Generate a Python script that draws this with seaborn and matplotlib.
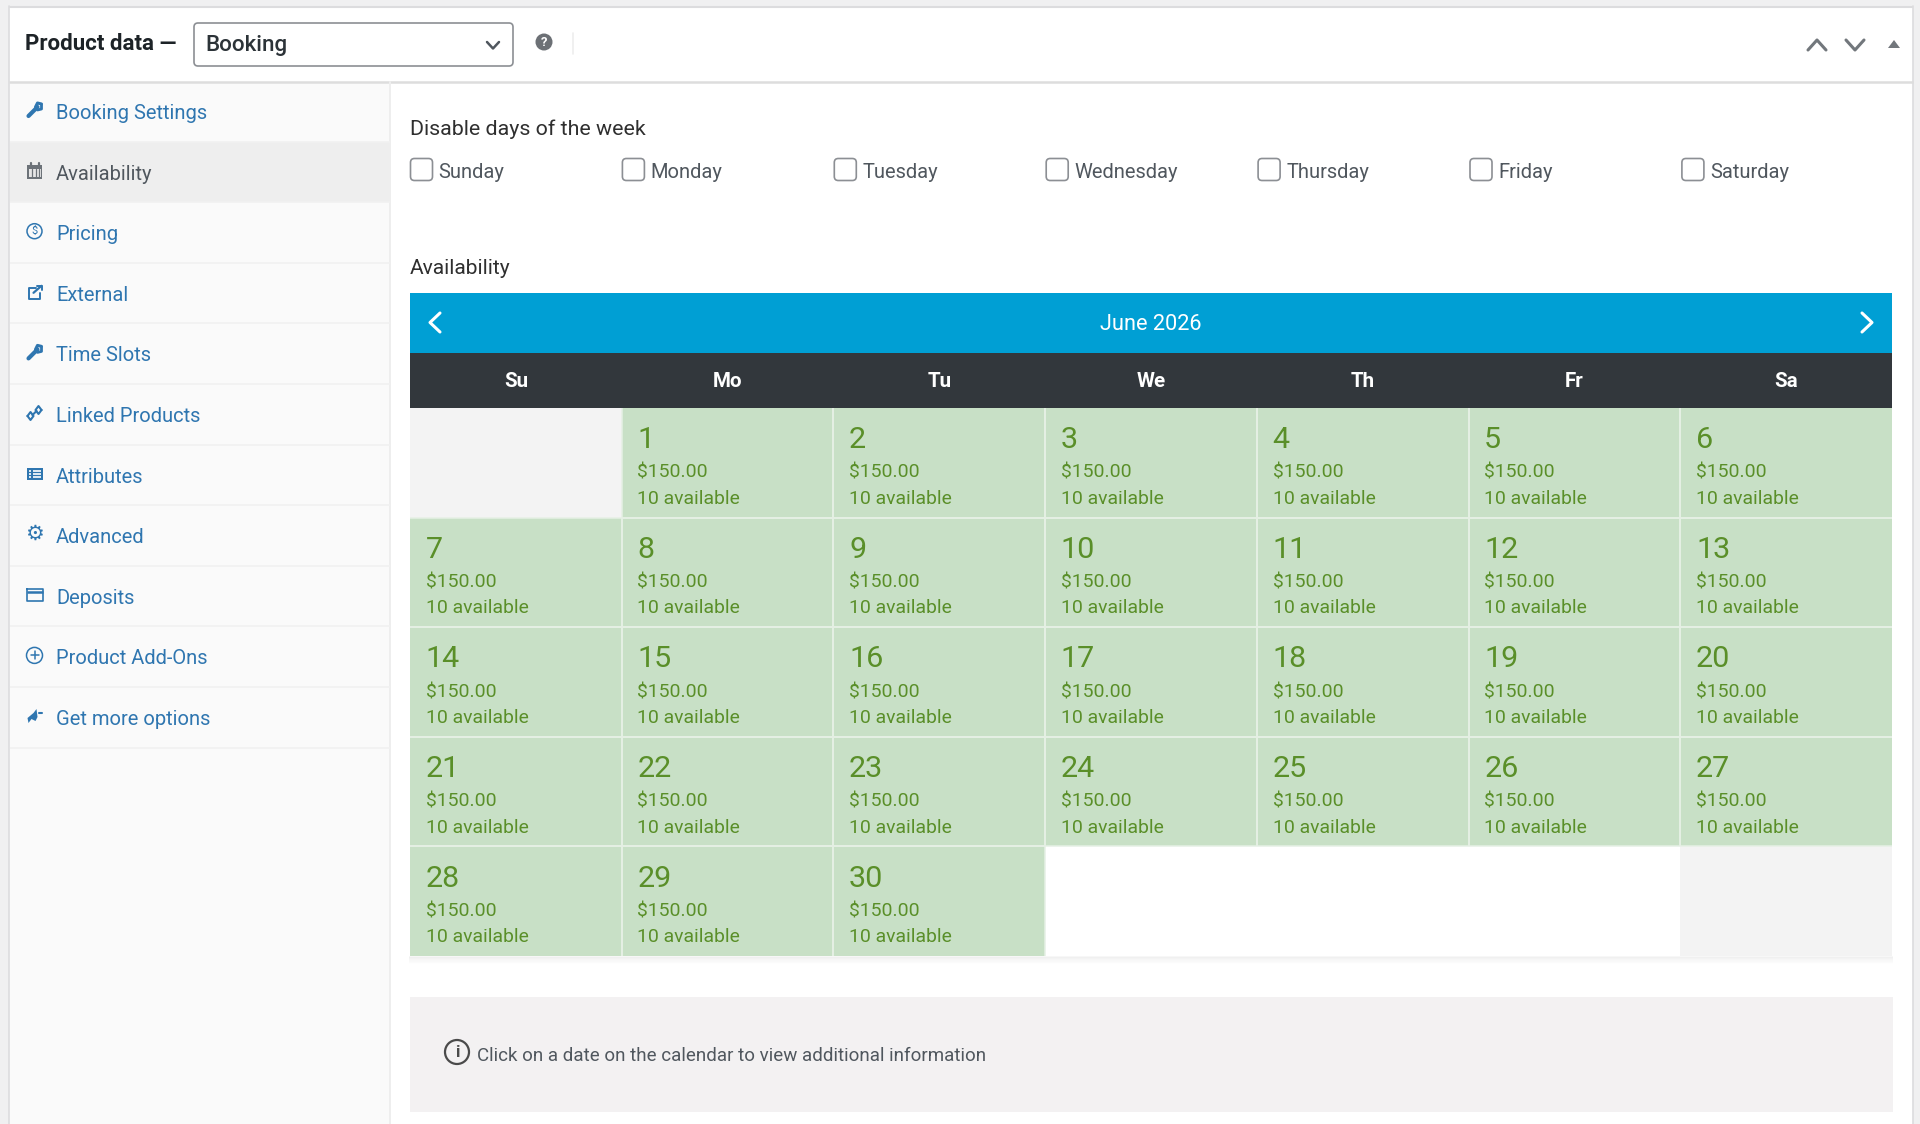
import numpy as np
import matplotlib
matplotlib.use("Agg")
import matplotlib.pyplot as plt
from matplotlib.colors import ListedColormap
from matplotlib.patches import Rectangle, FancyBboxPatch, Circle, Polygon
import seaborn as sns

# ---------- data ----------
weekdays = ["Su", "Mo", "Tu", "We", "Th", "Fr", "Sa"]
week_1 = [None, 1, 2, 3, 4, 5, 6]
week_2 = [7, 8, 9, 10, 11, 12, 13]
week_3 = [14, 15, 16, 17, 18, 19, 20]
week_4 = [21, 22, 23, 24, 25, 26, 27]
week_5 = [28, 29, 30, None, None, None, None]
weeks = [week_1, week_2, week_3, week_4, week_5]
outside_grey = [(0, 0), (4, 6)]
day_price = 150.00
day_available = 10
month_title = "June 2026"
sidebar_items = ["Booking Settings", "Availability", "Pricing", "External", "Time Slots",
                 "Linked Products", "Attributes", "Advanced", "Deposits",
                 "Product Add-Ons", "Get more options"]
active_item = "Availability"
disable_days = ["Sunday", "Monday", "Tuesday", "Wednesday", "Thursday", "Friday", "Saturday"]
info_text = "Click on a date on the calendar to view additional information"

# ---------- style ----------
sns.set_theme(style="white")
plt.rcParams["font.family"] = ["Roboto", "DejaVu Sans"]
W, H = 1920, 1124
C_BG = "#f0f0f1"; C_LINE = "#dcdcde"; C_SIDE = "#fafafa"; C_ACTIVE = "#eeeeee"
C_LINK = "#2f76b0"; C_TEXT = "#2f2f2f"; C_MUTED = "#50575e"; C_ICON = "#6c7278"
C_BLUE = "#009fd4"; C_DARK = "#32373c"; C_GREEN = "#c8e0c6"; C_GREY = "#f3f3f3"
C_GTEXT = "#5a8f29"; C_NOTE = "#f3f1f2"; C_GRID = "#e6f0e5"

fig = plt.figure(figsize=(W / 100, H / 100), dpi=100, facecolor="white")
bg = fig.add_axes([0, 0, 1, 1], zorder=0)
bg.set_xlim(0, W); bg.set_ylim(H, 0); bg.axis("off")

def pt(px):
    return px * 0.72

def rect(x0, y0, x1, y1, color, z=1, **kw):
    bg.add_patch(Rectangle((x0, y0), x1 - x0, y1 - y0, fc=color, ec="none", zorder=z, **kw))

def hline(x0, x1, y, color=C_LINE, lw=1.5, z=2):
    bg.plot([x0, x1], [y, y], color=color, lw=lw, zorder=z, solid_capstyle="butt")

def poly(xs, ys, color=C_ICON, lw=2.2, z=5):
    bg.plot(xs, ys, color=color, lw=lw, zorder=z, solid_capstyle="round", solid_joinstyle="round")

def label(x, y, s, px, color=C_TEXT, ha="left", weight="normal", z=6):
    bg.text(x, y, s, fontsize=pt(px), color=color, ha=ha, va="center", fontweight=weight, zorder=z)

# ---------- frame ----------
rect(0, 0, W, 6, C_BG); rect(0, 0, 9, H, C_BG); rect(1913, 0, W, H, C_BG)
hline(9, 1913, 6.5, "#dcdcde", 1.5)
bg.plot([9, 9], [6, H], color=C_LINE, lw=1.2, zorder=2)
bg.plot([1913, 1913], [6, H], color=C_LINE, lw=1.2, zorder=2)
hline(9, 1913, 81.5, "#dddddd", 1.8)

# header
label(25, 44.5, "Product data —", 22.3, "#1d2327", weight="bold")
bg.add_patch(FancyBboxPatch((194, 23), 319, 43, boxstyle="round,pad=0,rounding_size=4",
                            fc="white", ec="#8c8f94", lw=1.2, zorder=3))
label(205, 46, "Booking", 22.4, "#2c3338", weight="medium")
poly([487, 493, 499], [42, 48.5, 42], "#50575e", 1.8)
bg.add_patch(Circle((544, 42), 8.5, fc="#6c7075", ec="none", zorder=4))
bg.text(544, 42.5, "?", fontsize=pt(13), color="white", ha="center", va="center",
        fontweight="bold", zorder=5)
bg.plot([573, 573], [33, 54], color="#eeeeee", lw=1.2, zorder=2)
poly([1808, 1817, 1826], [50, 40, 50], "#72777c", 2.2)
poly([1846, 1855, 1864], [40, 50, 40], "#72777c", 2.2)
bg.add_patch(Polygon([[1888, 48], [1900, 48], [1894, 40]], fc="#72777c", ec="none", zorder=5))

# ---------- sidebar ----------
SIDE_R = 390; ITEM_H = 60.6
rect(9.5, 82, SIDE_R, H, C_SIDE)
bg.plot([SIDE_R, SIDE_R], [82, H], color="#eeeeee", lw=1.4, zorder=2)

def ic_wrench(cx, cy, c):
    poly([cx - 6, cx + 3], [cy + 6, cy - 3], c, 3.0)
    poly([cx + 1, cx + 3, cx + 7], [cy - 3, cy - 7, cy - 6], c, 2.2)
    poly([cx + 3, cx + 7, cx + 7], [cy + 0, cy - 1, cy - 5], c, 2.0)

def ic_calendar(cx, cy, c):
    rect(cx - 7.5, cy - 6, cx + 7.5, cy + 8, c, z=5)
    rect(cx - 6, cy - 2, cx + 6, cy + 6.5, "#e6e6e6", z=5)
    for dx in (-3, 1, 4.5):
        bg.plot([cx + dx, cx + dx], [cy - 2, cy + 6.5], color=c, lw=0.9, zorder=6)
    for dx in (-4, 4):
        bg.plot([cx + dx, cx + dx], [cy - 8, cy - 4], color=c, lw=1.6, zorder=6)

def ic_circle(cx, cy, c, s):
    bg.add_patch(Circle((cx, cy), 7.5, fc="none", ec=c, lw=1.1, zorder=5))
    bg.text(cx, cy, s, fontsize=pt(11), color=c, ha="center", va="center", zorder=6)

def ic_external(cx, cy, c):
    poly([cx + 1, cx - 6, cx - 6, cx + 5, cx + 5], [cy - 4, cy - 4, cy + 7, cy + 7, cy + 1], c, 1.4)
    poly([cx - 1, cx + 7], [cy + 1, cy - 6], c, 1.6)
    poly([cx + 2, cx + 7, cx + 7], [cy - 6, cy - 6, cy - 2], c, 1.4)

def ic_link(cx, cy, c):
    poly([cx - 7, cx - 4, cx - 1, cx - 4, cx - 7], [cy + 3, cy - 1, cy + 3, cy + 7, cy + 3], c, 1.5)
    poly([cx + 7, cx + 4, cx + 1, cx + 4, cx + 7], [cy - 3, cy + 1, cy - 3, cy - 7, cy - 3], c, 1.5)
    poly([cx - 2, cx + 2], [cy + 2, cy - 2], c, 1.5)

def ic_table(cx, cy, c):
    rect(cx - 8, cy - 6, cx + 8, cy + 6, c, z=5)
    for dy in (-2.5, 0.5, 3.5):
        hline(cx - 6, cx - 3.5, cy + dy, "white", 1.2, z=6)
        hline(cx - 2, cx + 6, cy + dy, "white", 1.2, z=6)

def ic_gear(cx, cy, c):
    bg.text(cx, cy, "\u2699", fontsize=pt(21), color=c, ha="center", va="center",
            family="DejaVu Sans", fontweight="bold", zorder=6)

def ic_card(cx, cy, c):
    poly([cx - 8, cx + 8, cx + 8, cx - 8, cx - 8], [cy - 6, cy - 6, cy + 6, cy + 6, cy - 6], c, 1.2)
    hline(cx - 8, cx + 8, cy - 2.5, c, 1.8, z=6)

def ic_plus(cx, cy, c):
    bg.add_patch(Circle((cx, cy), 8, fc="none", ec=c, lw=1.1, zorder=5))
    poly([cx - 4, cx + 4], [cy, cy], c, 1.1); poly([cx, cx], [cy - 4, cy + 4], c, 1.1)

def ic_plug(cx, cy, c):
    bg.add_patch(Polygon([[cx - 7, cy + 2], [cx - 1, cy - 3], [cx + 2, cy - 7], [cx + 3, cy + 1],
                          [cx + 1, cy + 5], [cx - 3, cy + 3], [cx - 6, cy + 7]],
                         fc=c, ec="none", zorder=5))
    poly([cx + 4, cx + 7], [cy - 3, cy - 3], c, 1.5)

icons = [ic_wrench, ic_calendar, lambda x, y, c: ic_circle(x, y, c, "$"), ic_external, ic_wrench,
         ic_link, ic_table, ic_gear, ic_card, ic_plus, ic_plug]

for i, name in enumerate(sidebar_items):
    top = 81 + i * ITEM_H
    is_active = name == active_item
    if is_active:
        rect(10, top, SIDE_R, top + ITEM_H, C_ACTIVE, z=1.5)
    hline(10, SIDE_R, top + ITEM_H, "#f1f1f1", 1.2)
    col = C_MUTED if is_active else C_LINK
    label(56, top + 32.5, name, 20.1, col)
    icons[i](34.5, top + 29, C_ICON if is_active else C_LINK)

# ---------- checkboxes ----------
CAL_L, CAL_R, CAL_T, CAL_B = 410, 1892, 408, 956
COL_W = (CAL_R - CAL_L) / 7
label(CAL_L, 129.5, "Disable days of the week", 21.4, C_TEXT)
for i, d in enumerate(disable_days):
    x = CAL_L + i * 211.9
    bg.add_patch(FancyBboxPatch((x + 0.5, 158.5), 22, 22, boxstyle="round,pad=0,rounding_size=4",
                                fc="white", ec="#8c8f94", lw=1.2, zorder=4))
    label(x + 28.5, 172, d, 20.2, C_MUTED)
label(CAL_L, 268.5, "Availability", 21, C_TEXT)

# ---------- calendar heads ----------
rect(CAL_L, 293, CAL_R, 352.5, C_BLUE, z=2)
rect(CAL_L, 352.5, CAL_R, CAL_T, C_DARK, z=2)
label((CAL_L + CAL_R) / 2, 324.5, month_title, 21.8, "white", ha="center")
poly([440, 430, 440], [313, 322.5, 332], "white", 2.2)
poly([1862, 1872, 1862], [313, 322.5, 332], "white", 2.2)
for k in range(7):
    hline(CAL_L - 1, CAL_R + 1, CAL_B + 0.8 + k, "#000000", 1.2, z=1.2)
    bg.lines[-1].set_alpha(0.035 * (1 - k / 7))

# ---------- calendar cells (heatmap) ----------
status = np.array([[2 if d is not None else (1 if (r, c) in outside_grey else 0)
                    for c, d in enumerate(w)] for r, w in enumerate(weeks)], dtype=float)
ax = fig.add_axes([CAL_L / W, 1 - CAL_B / H, (CAL_R - CAL_L) / W, (CAL_B - CAL_T) / H], zorder=3)
ax.patch.set_alpha(0)
sns.heatmap(status, mask=status == 0, cmap=ListedColormap([C_GREY, C_GREEN]), vmin=1, vmax=2,
            cbar=False, linewidths=0, square=False,
            xticklabels=weekdays, yticklabels=False, ax=ax)
ax.xaxis.tick_top()
ax.tick_params(axis="x", length=0, pad=pt(17.5), labelcolor="white", labelsize=pt(20.5), rotation=0)
for t in ax.get_xticklabels():
    t.set_fontweight("bold")
ax.set_xlabel(""); ax.set_ylabel("")

# cell separators, only where a green cell is involved
n_rows, n_cols = status.shape
for r in range(n_rows):
    for c in range(n_cols):
        if status[r, c] != 2:
            continue
        if c > 0:
            ax.plot([c, c], [r, r + 1], color=C_GRID, lw=1.1, solid_capstyle="butt", zorder=3)
        if c < n_cols - 1:
            ax.plot([c + 1, c + 1], [r, r + 1], color=C_GRID, lw=1.1, solid_capstyle="butt", zorder=3)
        if r > 0:
            ax.plot([c, c + 1], [r, r], color=C_GRID, lw=1.1, solid_capstyle="butt", zorder=3)
        if r < n_rows - 1:
            ax.plot([c, c + 1], [r + 1, r + 1], color=C_GRID, lw=1.1, solid_capstyle="butt", zorder=3)

for r, w in enumerate(weeks):
    for c, d in enumerate(w):
        if d is None:
            continue
        x = c + 0.074
        ax.text(x, r + 0.293, str(d), fontsize=pt(30.5), color=C_GTEXT, ha="left", va="center")
        ax.text(x, r + 0.592, f"${day_price:.2f}", fontsize=pt(19.4), color=C_GTEXT, ha="left", va="center")
        ax.text(x, r + 0.829, f"{day_available} available", fontsize=pt(19.4), color=C_GTEXT, ha="left", va="center")

# ---------- note ----------
rect(CAL_L, 997, 1893, 1112, C_NOTE)
bg.add_patch(Circle((457, 1052), 12, fc="none", ec="#4a4a4a", lw=1.6, zorder=5))
bg.text(457, 1052.5, "i", fontsize=pt(17), color="#4a4a4a", ha="center", va="center",
        fontweight="bold", zorder=6)
label(477, 1056, info_text, 18.8, "#50575e")

fig.savefig("out.png", dpi=100)
